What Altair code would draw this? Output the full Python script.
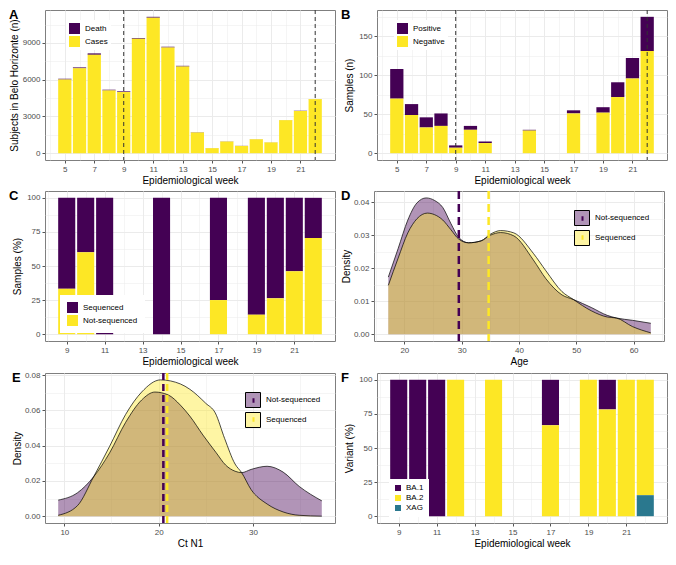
import altair as alt
import pandas as pd

PURPLE = "#440154"
YELLOW = "#FDE725"
TEAL = "#2A788E"
PURPLE_KEY = "#B094B7"
YELLOW_KEY = "#FEF5A3"
FONT = "Liberation Sans"
W = 290
H = 150

# ---------------- Panel A: cases / deaths in Belo Horizonte ----------------
weeks_a = [5, 6, 7, 8, 9, 10, 11, 12, 13, 14, 15, 16, 17, 18, 19, 20, 21, 22]
cases_a = [6010, 6925, 8030, 5120, 4990, 9330, 11060, 8630, 7070, 1690, 410, 950, 590, 1135, 880, 2695, 3450, 4410]
deaths_a = [75, 75, 115, 60, 55, 60, 70, 60, 60, 25, 10, 15, 10, 12, 10, 12, 12, 12]

# ---------------- Panel B: samples positive / negative ----------------
weeks_b = [5, 6, 7, 8, 9, 10, 11, 14, 17, 19, 20, 21, 22]
positive_b = [38, 14, 13, 16, 3, 5, 2, 1, 4, 7, 19, 26, 44]
negative_b = [70, 49, 33, 35, 7, 30, 13, 29, 51, 52, 72, 96, 131]

# vertical dashed reference weeks (A, B)
ref_weeks = [9, 22]

# ---------------- Panel C: sequenced share ----------------
weeks_c = [9, 10, 11, 14, 17, 19, 20, 21, 22]
sequenced_c = [66.7, 40.0, 100.0, 100.0, 75.0, 85.7, 73.7, 53.8, 29.5]
not_sequenced_c = [33.3, 60.0, 0.0, 0.0, 25.0, 14.3, 26.3, 46.2, 70.5]

# ---------------- Panel D: age density ----------------
age_ns = [17.2, 18.9, 20.6, 22.2, 23.8, 25.3, 26.7, 28.1, 29.5, 31.2, 33.4, 35.0, 36.8, 39.1,
          42.5, 44.7, 47.5, 49.5, 52.6, 55.4, 57.0, 59.8, 63.0]
dens_age_ns = [0.0173, 0.0259, 0.0346, 0.0398, 0.0413, 0.0405, 0.0384, 0.0336, 0.0293, 0.0277,
               0.0283, 0.0300, 0.0308, 0.0298, 0.0225, 0.0168, 0.0119, 0.0105, 0.0081, 0.0057,
               0.0049, 0.0042, 0.0033]
age_s = [17.2, 18.9, 20.6, 22.2, 24.0, 25.3, 26.7, 28.1, 29.5, 31.2, 33.4, 35.0, 36.8, 39.1,
         42.5, 44.7, 47.5, 49.5, 52.6, 55.4, 57.0, 59.8, 63.0]
dens_age_s = [0.0148, 0.0230, 0.0307, 0.0350, 0.0367, 0.0362, 0.0346, 0.0317, 0.0288, 0.0277,
              0.0283, 0.0303, 0.0314, 0.0307, 0.0245, 0.0192, 0.0129, 0.0105, 0.0071, 0.0052,
              0.0049, 0.0023, 0.0004]
mean_age = [29.5, 34.7]

# ---------------- Panel E: Ct N1 density ----------------
ct_ns = [9.35, 11.4, 13.1, 14.8, 16.5, 18.2, 19.6, 21.0, 22.3, 23.3, 24.7, 26.1, 27.1, 28.1,
         28.8, 29.8, 31.5, 33.2, 34.9, 37.3]
dens_ct_ns = [0.0091, 0.0133, 0.0223, 0.0359, 0.0532, 0.0659, 0.0704, 0.0688, 0.0630, 0.0568,
              0.0460, 0.0360, 0.0290, 0.0255, 0.0247, 0.0265, 0.0283, 0.0250, 0.0169, 0.0087]
ct_s = [9.35, 11.4, 13.1, 14.8, 16.5, 18.2, 20.2, 22.3, 23.3, 25.0, 26.0, 27.0, 28.1, 28.8,
        29.8, 31.5, 33.2, 34.9, 37.3]
dens_ct_s = [0.0005, 0.0060, 0.0223, 0.0396, 0.0577, 0.0704, 0.0773, 0.0750, 0.0720, 0.0640,
             0.0586, 0.0440, 0.0296, 0.0247, 0.0151, 0.0069, 0.0024, 0.0005, 0.0000]
mean_ct = [20.5, 20.9]

# ---------------- Panel F: variants ----------------
weeks_f = [9, 10, 11, 12, 14, 17, 19, 20, 21, 22]
ba1_f = [100, 100, 100, 0, 0, 33.3, 0, 21.7, 0, 0]
ba2_f = [0, 0, 0, 100, 100, 66.7, 100, 78.3, 100, 84.6]
xag_f = [0, 0, 0, 0, 0, 0, 0, 0, 0, 15.4]

GROUPS = ["Not-sequenced", "Sequenced"]
LINE_GROUPS = ["mean Not-sequenced", "mean Sequenced"]


def cond(test, major, minor):
    return {"condition": {"test": test, "value": major}, "value": minor}


def make_axis(values, test, title, fmt="d", title_x=None):
    kw = dict(values=values, title=title, labelExpr=f"({test}) ? datum.label : ''",
              gridWidth=cond(test, 1.0, 0.5), tickOpacity=cond(test, 1, 0),
              labelOverlap=False, labelFlush=False, format=fmt)
    if title_x is not None:
        kw["titleX"] = title_x
        kw["titleBaseline"] = "middle"
    return alt.Axis(**kw)


def letter(ch, dx):
    return alt.Chart(pd.DataFrame({"t": [ch]})).mark_text(
        fontSize=13, fontWeight="bold", align="left", baseline="top", font=FONT, color="black"
    ).encode(text="t:N", x=alt.value(dx), y=alt.value(-1))


def box_legend(x, y, size, row_pad, pad, fill=None, label_offset=5):
    kw = dict(orient="none", legendX=x, legendY=y, symbolType="square", symbolSize=size,
              rowPadding=row_pad, padding=pad, labelOffset=label_offset, labelFontSize=8,
              labelColor="black", symbolStrokeWidth=0, title=None)
    if fill:
        kw["fillColor"] = fill
    return alt.Legend(**kw)


def stacked(weeks, names, series, colors, bottom_to_top, xdom, xvals, ydom, yvals, ytest,
            ytitle, legend, ch, vlines=None, title_x=-28):
    rows = []
    for name, vals in zip(names, series):
        for w, v in zip(weeks, vals):
            rows.append({"week": w, "group": name, "value": v, "ord": bottom_to_top.index(name)})
    df = pd.DataFrame(rows)
    xscale = alt.Scale(domain=xdom, nice=False, zero=False)
    xaxis = make_axis(xvals, "datum.value % 2 == 1", "Epidemiological week")
    yscale = alt.Scale(domain=ydom, nice=False, zero=False)
    yaxis = make_axis(yvals, ytest, ytitle, title_x=title_x)
    bars = alt.Chart(df).transform_stack(
        stack="value", groupby=["week"], as_=["y0", "y1"],
        sort=[alt.SortField("ord", order="ascending")]
    ).transform_calculate(
        xl="datum.week - 0.45", xr="datum.week + 0.45"
    ).mark_rect().encode(
        x=alt.X("xl:Q", scale=xscale, axis=xaxis, title="Epidemiological week"),
        x2="xr:Q",
        y=alt.Y("y0:Q", scale=yscale, axis=yaxis, title=ytitle),
        y2="y1:Q",
        color=alt.Color("group:N", scale=alt.Scale(domain=names, range=colors), legend=legend, title=None),
    )
    layers = [bars]
    if vlines:
        rules = alt.Chart(pd.DataFrame({"week": vlines})).mark_rule(
            color="#333333", strokeDash=[4, 3], strokeWidth=1
        ).encode(x=alt.X("week:Q", scale=xscale, axis=xaxis, title="Epidemiological week"))
        layers.append(rules)
    layers.append(letter(ch, -36))
    return alt.layer(*layers).properties(width=W, height=H)


def density(x_ns, d_ns, x_s, d_s, means, xdom, xvals, xtest, xtitle, ydom, yvals, ytest, ch, dash):
    df_ns = pd.DataFrame({"x": x_ns, "d": d_ns})
    df_s = pd.DataFrame({"x": x_s, "d": d_s})
    xscale = alt.Scale(domain=xdom, nice=False, zero=False)
    xaxis = make_axis(xvals, xtest, xtitle)
    X = alt.X("x:Q", scale=xscale, axis=xaxis, title=xtitle)
    Y = alt.Y("d:Q", stack=None, scale=alt.Scale(domain=ydom, nice=False, zero=False),
              axis=make_axis(yvals, ytest, "Density", fmt=".2f", title_x=-28), title="Density")
    a_ns = alt.Chart(df_ns).mark_area(interpolate="monotone", color=PURPLE, fillOpacity=0.42).encode(x=X, y=Y)
    a_s = alt.Chart(df_s).mark_area(interpolate="monotone", color=YELLOW, fillOpacity=0.42).encode(x=X, y=Y)
    l_ns = alt.Chart(df_ns).mark_line(interpolate="monotone", color="black", strokeWidth=0.7).encode(x=X, y=Y)
    l_s = alt.Chart(df_s).mark_line(interpolate="monotone", color="black", strokeWidth=0.7).encode(x=X, y=Y)
    mdf = pd.DataFrame({"m": means, "grp": GROUPS, "grp_line": LINE_GROUPS})
    XM = alt.X("m:Q", scale=xscale, axis=xaxis, title=xtitle)
    rules = alt.Chart(mdf).mark_rule(strokeDash=dash, strokeWidth=2.5).encode(
        x=XM,
        stroke=alt.Stroke("grp_line:N", scale=alt.Scale(domain=LINE_GROUPS, range=[PURPLE, YELLOW]),
                          title=None,
                          legend=alt.Legend(orient="none", legendX=203, legendY=22,
                                            symbolType="M0,-0.5L0,0.5", symbolSize=81,
                                            symbolStrokeWidth=2, rowPadding=6, padding=0,
                                            labelExpr="''", labelFontSize=8, title=None)),
    )
    keys = alt.Chart(mdf).mark_point(filled=True, size=0, opacity=0, stroke="black").encode(
        x=XM,
        fill=alt.Fill("grp:N", scale=alt.Scale(domain=GROUPS, range=[PURPLE_KEY, YELLOW_KEY]),
                      title=None,
                      legend=alt.Legend(orient="none", legendX=200, legendY=19, symbolType="square",
                                        symbolSize=225, symbolStrokeColor="black",
                                        symbolStrokeWidth=1, symbolOpacity=1, rowPadding=0,
                                        padding=0, labelOffset=5, labelFontSize=8,
                                        labelColor="black", title=None)),
    )
    return alt.layer(keys, a_ns, a_s, l_ns, l_s, rules, letter(ch, -33)).properties(width=W, height=H)


def top_dom(totals):
    m = max(totals)
    return [-0.05 * m, 1.05 * m]


panel_a = stacked(
    weeks_a, ["Death", "Cases"], [deaths_a, cases_a], [PURPLE, YELLOW], ["Cases", "Death"],
    [3.655, 23.345], list(range(4, 23)),
    top_dom([c + d for c, d in zip(cases_a, deaths_a)]), list(range(0, 11000, 1500)),
    "datum.value % 3000 == 0", "Subjects in Belo Horizonte (n)",
    box_legend(21, 10, 121, 2, 3, fill="white"), "A", vlines=ref_weeks, title_x=-31)

panel_b = stacked(
    weeks_b, ["Positive", "Negative"], [positive_b, negative_b], [PURPLE, YELLOW], ["Negative", "Positive"],
    [3.655, 23.345], list(range(4, 23)),
    top_dom([p + n for p, n in zip(positive_b, negative_b)]), list(range(0, 180, 25)),
    "datum.value % 50 == 0", "Samples (n)",
    box_legend(17, 10, 121, 2, 3, fill="white"), "B", vlines=ref_weeks)

panel_c = stacked(
    weeks_c, ["Sequenced", "Not-sequenced"], [sequenced_c, not_sequenced_c], [PURPLE, YELLOW],
    ["Not-sequenced", "Sequenced"],
    [7.855, 23.145], list(range(8, 23)),
    [-5, 105], [0, 12.5, 25, 37.5, 50, 62.5, 75, 87.5, 100],
    "datum.value % 25 == 0", "Samples (%)",
    box_legend(15, 104, 121, 2, 7, fill="white"), "C")

panel_f = stacked(
    weeks_f, ["BA.1", "BA.2", "XAG"], [ba1_f, ba2_f, xag_f], [PURPLE, YELLOW, TEAL],
    ["XAG", "BA.2", "BA.1"],
    [7.855, 23.145], list(range(8, 23)),
    [-5, 105], [0, 12.5, 25, 37.5, 50, 62.5, 75, 87.5, 100],
    "datum.value % 25 == 0", "Variant (%)",
    box_legend(12, 106, 36, 2, 5, fill="white", label_offset=4), "F")

panel_d = density(
    age_ns, dens_age_ns, age_s, dens_age_s, mean_age,
    [14.7, 65.3], [15, 20, 25, 30, 35, 40, 45, 50, 55, 60, 65], "datum.value % 10 == 0", "Age",
    [-0.00207, 0.0434], [0, 0.005, 0.01, 0.015, 0.02, 0.025, 0.03, 0.035, 0.04],
    "round(datum.value * 1000) % 10 == 0", "D", [8, 5])

panel_e = density(
    ct_ns, dens_ct_ns, ct_s, dens_ct_s, mean_ct,
    [7.95, 38.7], [10, 15, 20, 25, 30, 35], "datum.value % 10 == 0", "Ct N1",
    [-0.00387, 0.0812], [0, 0.01, 0.02, 0.03, 0.04, 0.05, 0.06, 0.07, 0.08],
    "round(datum.value * 100) % 2 == 0", "E", [7, 4])

res = dict(x="independent", y="independent", color="independent", fill="independent", stroke="independent")
row1 = alt.hconcat(panel_a, panel_b, spacing=4).resolve_scale(**res)
row2 = alt.hconcat(panel_c, panel_d, spacing=4).resolve_scale(**res)
row3 = alt.hconcat(panel_e, panel_f, spacing=4).resolve_scale(**res)

chart = alt.vconcat(row1, row2, row3, spacing=3).resolve_scale(**res).properties(
    padding=0
).configure(font=FONT).configure_view(
    stroke="#7F7F7F", strokeWidth=1
).configure_axis(
    domain=False, grid=True, gridColor="#EBEBEB", tickColor="#555555", tickSize=3,
    labelFontSize=8, labelColor="#4D4D4D", titleFontSize=10, titleFontWeight="normal",
    titleColor="black", labelPadding=2, titlePadding=2, labelFont=FONT, titleFont=FONT
).configure_legend(labelFont=FONT)

chart.save("out.html", embed_options={"renderer": "svg", "actions": False})
